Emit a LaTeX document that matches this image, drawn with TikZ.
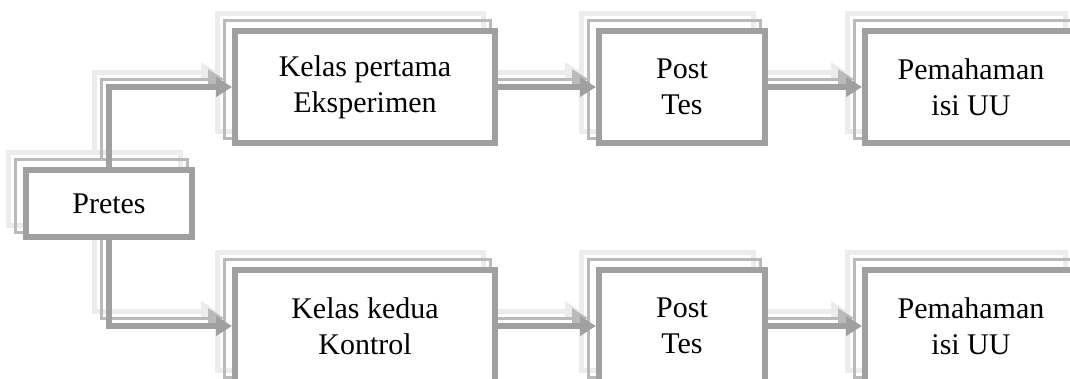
\documentclass[tikz,border=0pt]{standalone}
\usepackage{fontspec}
\setmainfont{Liberation Serif}
\usetikzlibrary{arrows.meta,backgrounds}
\definecolor{boxgray}{RGB}{160,160,160}
\definecolor{midgray}{RGB}{186,186,186}
\definecolor{fadegray}{RGB}{236,236,236}
\tikzset{
  box/.style={draw=boxgray, line width=6pt, fill=white, align=center, inner sep=0pt,
    font=\fontsize{30}{36}\selectfont},
  flow/.style={boxgray, line width=6pt, -{Triangle[length=16pt,width=19pt]}},
}

\begin{document}
\begin{tikzpicture}[x=1pt,y=-1pt]
\useasboundingbox (0,0) rectangle (1070,378);
% boxes
\node[box, minimum width=166pt, minimum height=67pt] (pretes) at (109,203.5) {Pretes};
\node[box, minimum width=260pt, minimum height=112pt] (kelasA) at (365,87) {Kelas pertama\\Eksperimen};
\node[box, minimum width=166pt, minimum height=112pt] (postA) at (682,87) {Post\\Tes};
\node[box, minimum width=212pt, minimum height=112pt] (pahamA) at (971,87) {Pemahaman\\isi UU};
\node[box, minimum width=260pt, minimum height=112pt] (kelasB) at (365,326) {Kelas kedua\\Kontrol};
\node[box, minimum width=166pt, minimum height=112pt] (postB) at (682,326) {Post\\Tes};
\node[box, minimum width=212pt, minimum height=112pt] (pahamB) at (971,326) {Pemahaman\\isi UU};
% shadows and arrows
\begin{scope}[on background layer]
\foreach \d/\c/\w in {15/fadegray/5pt, 8/midgray/3pt} {
  \foreach \n in {pretes,kelasA,postA,pahamA,kelasB,postB,pahamB}
    \draw[\c, line width=\w] ([shift={(-\d,-\d)}]\n.north west) rectangle ([shift={(-\d,-\d)}]\n.south east);
  \draw[flow, \c, line width=\w] ([shift={(-\d,-\d)}]pretes.north) |- ([shift={(-\d,-\d)}]kelasA.west);
  \draw[flow, \c, line width=\w] ([shift={(-\d,-\d)}]pretes.south) |- ([shift={(-\d,-\d)}]kelasB.west);
  \draw[flow, \c, line width=\w] ([shift={(-\d,-\d)}]kelasA.east) -- ([shift={(-\d,-\d)}]postA.west);
  \draw[flow, \c, line width=\w] ([shift={(-\d,-\d)}]postA.east) -- ([shift={(-\d,-\d)}]pahamA.west);
  \draw[flow, \c, line width=\w] ([shift={(-\d,-\d)}]kelasB.east) -- ([shift={(-\d,-\d)}]postB.west);
  \draw[flow, \c, line width=\w] ([shift={(-\d,-\d)}]postB.east) -- ([shift={(-\d,-\d)}]pahamB.west);
}
\draw[flow] (pretes.north) |- (kelasA.west);
\draw[flow] (pretes.south) |- (kelasB.west);
\draw[flow] (kelasA) -- (postA);
\draw[flow] (postA) -- (pahamA);
\draw[flow] (kelasB) -- (postB);
\draw[flow] (postB) -- (pahamB);
\end{scope}
\end{tikzpicture}
\end{document}
